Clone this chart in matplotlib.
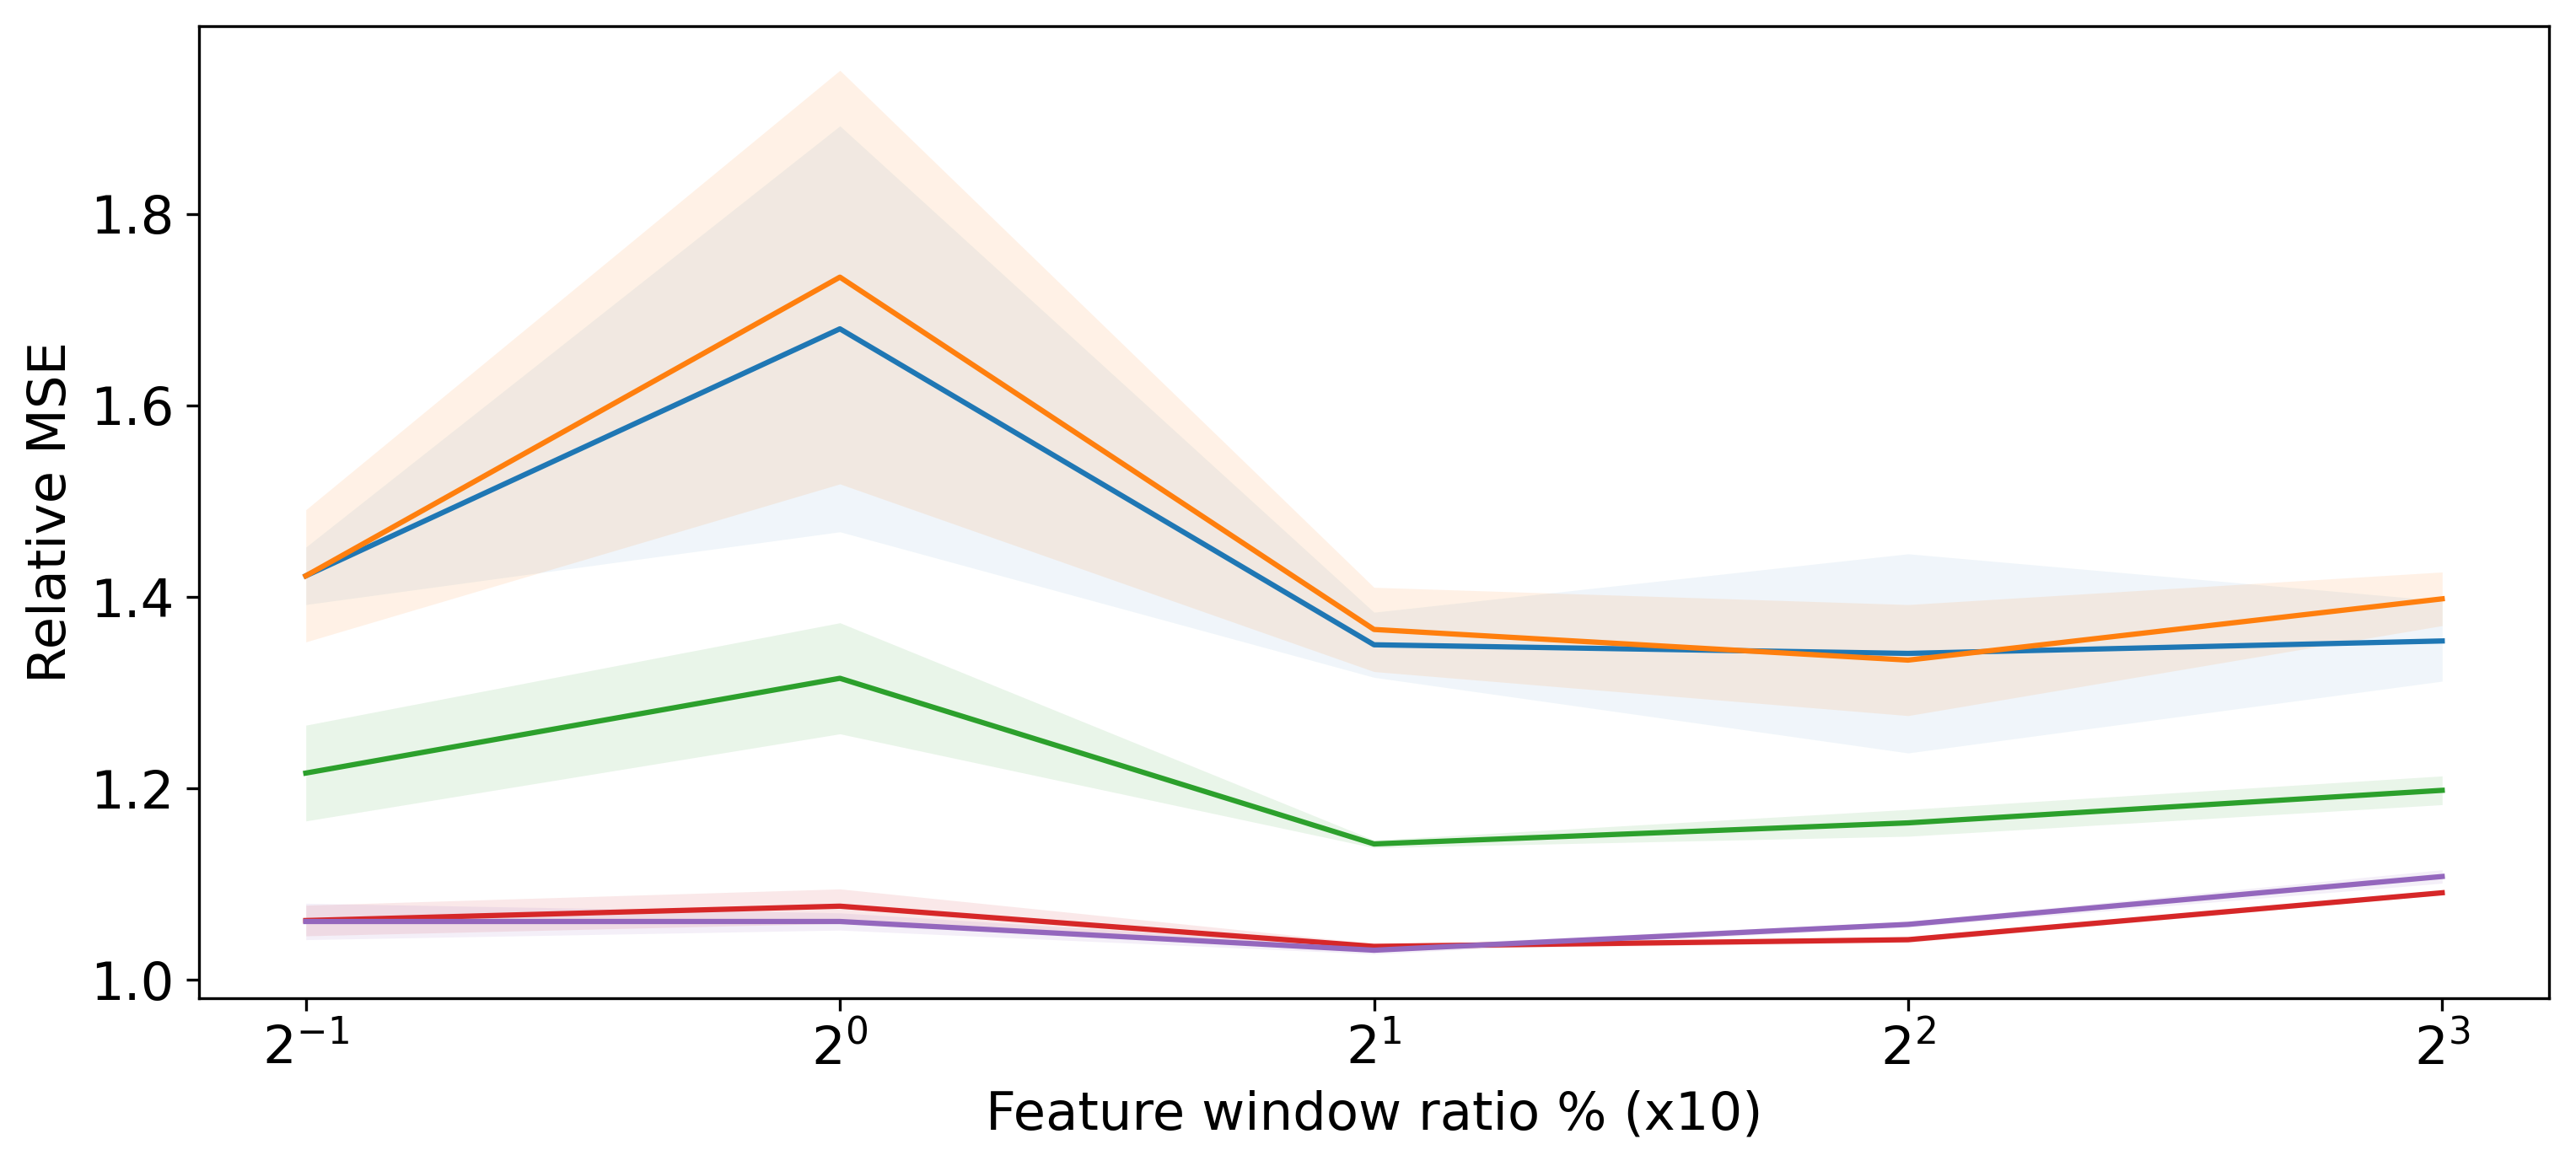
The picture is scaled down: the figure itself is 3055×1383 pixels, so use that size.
import numpy as np
import matplotlib
matplotlib.use("Agg")
import matplotlib.pyplot as plt

# feature window ratio (x10), log2 axis
ratios = [0.5, 1, 2, 4, 8]

# mean relative MSE per series
mean_blue = [1.422, 1.680, 1.350, 1.341, 1.354]
mean_orange = [1.422, 1.734, 1.366, 1.334, 1.398]
mean_green = [1.216, 1.315, 1.142, 1.164, 1.198]
mean_red = [1.062, 1.077, 1.035, 1.042, 1.091]
mean_purple = [1.061, 1.061, 1.031, 1.058, 1.108]

# spread (half-width of shaded band)
std_blue = [0.030, 0.212, 0.034, 0.104, 0.042]
std_orange = [0.069, 0.216, 0.044, 0.058, 0.028]
std_green = [0.050, 0.058, 0.004, 0.014, 0.015]
std_red = [0.016, 0.018, 0.003, 0.003, 0.002]
std_purple = [0.019, 0.009, 0.004, 0.003, 0.007]

series = [
    (mean_blue, std_blue, "tab:blue", 0.065),
    (mean_orange, std_orange, "tab:orange", 0.1),
    (mean_green, std_green, "tab:green", 0.1),
    (mean_red, std_red, "tab:red", 0.1),
    (mean_purple, std_purple, "tab:purple", 0.1),
]

fig, ax = plt.subplots(figsize=(3055 / 300, 1383 / 300), dpi=300)
fig.subplots_adjust(left=236 / 3055, right=3023 / 3055, top=1 - 31 / 1383, bottom=1 - 1184 / 1383)

x = np.array(ratios)
for m, s, c, a in series:
    m = np.array(m)
    s = np.array(s)
    ax.fill_between(x, m - s, m + s, color=c, alpha=a, linewidth=0)
for m, s, c, a in series:
    ax.plot(x, m, color=c, linewidth=1.5)

ax.set_xscale("log", base=2)
ax.set_xticks(ratios)
ax.set_yticks([1.0, 1.2, 1.4, 1.6, 1.8])
ax.tick_params(labelsize=15)
ax.set_xlabel("Feature window ratio % (x10)", fontsize=15)
ax.set_ylabel("Relative MSE", fontsize=15)

fig.savefig("out.png", dpi=300)
